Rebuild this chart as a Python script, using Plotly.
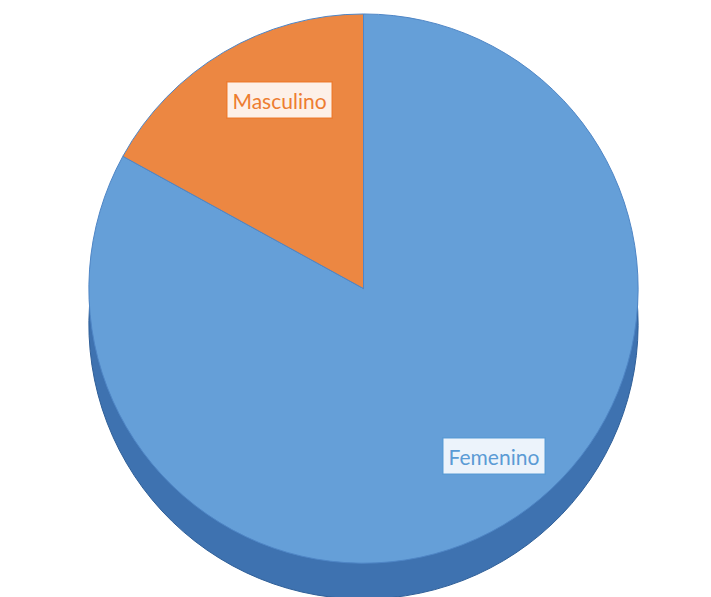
import plotly.graph_objects as go

labels = ["Femenino", "Masculino"]
values = [83, 17]
top_colors = ["#659FD8", "#EC8742"]
side_colors = ["#3E72B0", "#B85F24"]
label_colors = ["#5B9BD5", "#ED7D31"]

fig = go.Figure()

# side wall (shadow pie, shifted down) for the 3D look
fig.add_trace(go.Pie(
    labels=labels, values=values, sort=False, direction="clockwise", rotation=0,
    marker=dict(colors=side_colors, line=dict(color="#2F5F98", width=1)),
    textinfo="none", hoverinfo="skip", showlegend=False,
    domain=dict(x=[0, 1], y=[0.01, 0.93]),
))

# top face
fig.add_trace(go.Pie(
    labels=labels, values=values, sort=False, direction="clockwise", rotation=0,
    marker=dict(colors=top_colors, line=dict(color="#4F86C6", width=1)),
    textinfo="none", showlegend=False,
    domain=dict(x=[0, 1], y=[0.07, 0.99]),
))

ann_pos = {"Masculino": (0.307, 0.878), "Femenino": (0.757, 0.218)}
for lab, col in zip(labels, label_colors):
    x, y = ann_pos[lab]
    fig.add_annotation(
        x=x, y=y, xref="paper", yref="paper", text=lab, showarrow=False,
        font=dict(family="Lato, Open Sans, sans-serif", size=21, color=col),
        bgcolor="rgba(255,255,255,0.88)", bordercolor=col, borderwidth=1.5,
        borderpad=5,
    )

fig.update_layout(
    width=711, height=597,
    margin=dict(l=0, r=0, t=0, b=0),
    paper_bgcolor="white", plot_bgcolor="white",
)

fig.write_html("out.html")
